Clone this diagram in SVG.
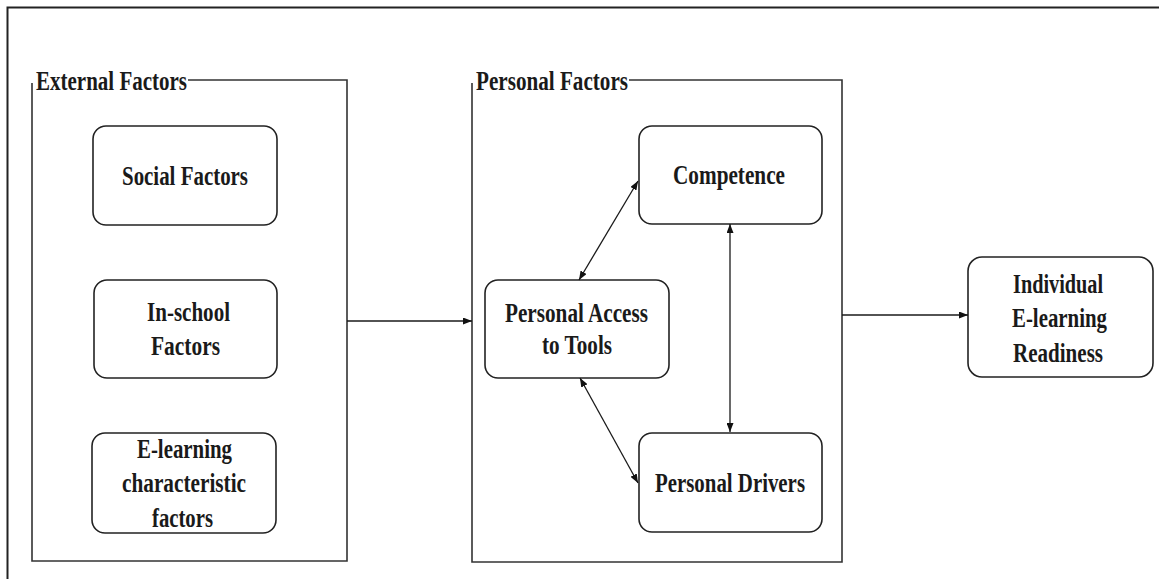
<svg xmlns="http://www.w3.org/2000/svg" width="1159" height="579" viewBox="0 0 1159 579">
<style>
.frame{fill:none;stroke:#333;stroke-width:1.6}
.node{fill:#fff;stroke:#222;stroke-width:1.6}
.t{font-family:"Liberation Serif","Times New Roman",serif;font-weight:bold;font-size:27px;fill:#1a1a1a}
.c{stroke:#1a1a1a;stroke-width:1.3;fill:none}
</style>
<defs>
<marker id="ah" viewBox="0 0 10 10" refX="10" refY="5" markerWidth="9" markerHeight="7" markerUnits="userSpaceOnUse" orient="auto-start-reverse" preserveAspectRatio="none">
<path d="M0,0 L10,5 L0,10 z" fill="#111"/>
</marker>
</defs>
<rect width="1159" height="579" fill="#fff"/>
<g id="outer-frame">
<path d="M7.5,579 V7.5 H1159" fill="none" stroke="#222" stroke-width="2"/>
</g>
<g id="external-factors">
<path class="frame" d="M188,80 H347 V561 H32 V83"/>
<text class="t" x="36" y="90" textLength="151" lengthAdjust="spacingAndGlyphs">External Factors</text>
</g>
<g id="social-factors">
<rect class="node" x="93" y="126" width="184" height="99" rx="13"/>
<text class="t" x="122" y="185" textLength="126" lengthAdjust="spacingAndGlyphs">Social Factors</text>
</g>
<g id="in-school-factors">
<rect class="node" x="94" y="280" width="183" height="98" rx="13"/>
<text class="t" x="147" y="321" textLength="83" lengthAdjust="spacingAndGlyphs">In-school</text>
<text class="t" x="151" y="355" textLength="69" lengthAdjust="spacingAndGlyphs">Factors</text>
</g>
<g id="e-learning-characteristic-factors">
<rect class="node" x="92" y="433" width="184" height="100" rx="13"/>
<text class="t" x="137" y="458" textLength="95" lengthAdjust="spacingAndGlyphs">E-learning</text>
<text class="t" x="122" y="492" textLength="124" lengthAdjust="spacingAndGlyphs">characteristic</text>
<text class="t" x="152" y="527" textLength="61" lengthAdjust="spacingAndGlyphs">factors</text>
</g>
<g id="personal-factors">
<path class="frame" d="M629,80 H842 V562 H472 V83"/>
<text class="t" x="476" y="90" textLength="152" lengthAdjust="spacingAndGlyphs">Personal Factors</text>
</g>
<g id="competence">
<rect class="node" x="639" y="126" width="183" height="98" rx="13"/>
<text class="t" x="673" y="184" textLength="112" lengthAdjust="spacingAndGlyphs">Competence</text>
</g>
<g id="personal-access-to-tools">
<rect class="node" x="485" y="280" width="184" height="98" rx="13"/>
<text class="t" x="505" y="322" textLength="143" lengthAdjust="spacingAndGlyphs">Personal Access</text>
<text class="t" x="542" y="354" textLength="70" lengthAdjust="spacingAndGlyphs">to Tools</text>
</g>
<g id="personal-drivers">
<rect class="node" x="639" y="433" width="183" height="99" rx="13"/>
<text class="t" x="655" y="492" textLength="150" lengthAdjust="spacingAndGlyphs">Personal Drivers</text>
</g>
<g id="individual-e-learning-readiness">
<rect class="node" x="968" y="257" width="185" height="120" rx="14"/>
<text class="t" x="1013" y="293" textLength="90" lengthAdjust="spacingAndGlyphs">Individual</text>
<text class="t" x="1012" y="327" textLength="95" lengthAdjust="spacingAndGlyphs">E-learning</text>
<text class="t" x="1013" y="362" textLength="90" lengthAdjust="spacingAndGlyphs">Readiness</text>
</g>
<g id="connectors">
<line class="c" x1="347" y1="321" x2="472" y2="321" marker-end="url(#ah)"/>
<line class="c" x1="842" y1="315" x2="968" y2="315" marker-end="url(#ah)"/>
<line class="c" x1="579" y1="280" x2="638" y2="181" marker-start="url(#ah)" marker-end="url(#ah)"/>
<line class="c" x1="730" y1="224" x2="730" y2="432" marker-start="url(#ah)" marker-end="url(#ah)"/>
<line class="c" x1="580" y1="378" x2="638" y2="483" marker-start="url(#ah)" marker-end="url(#ah)"/>
</g>
</svg>
